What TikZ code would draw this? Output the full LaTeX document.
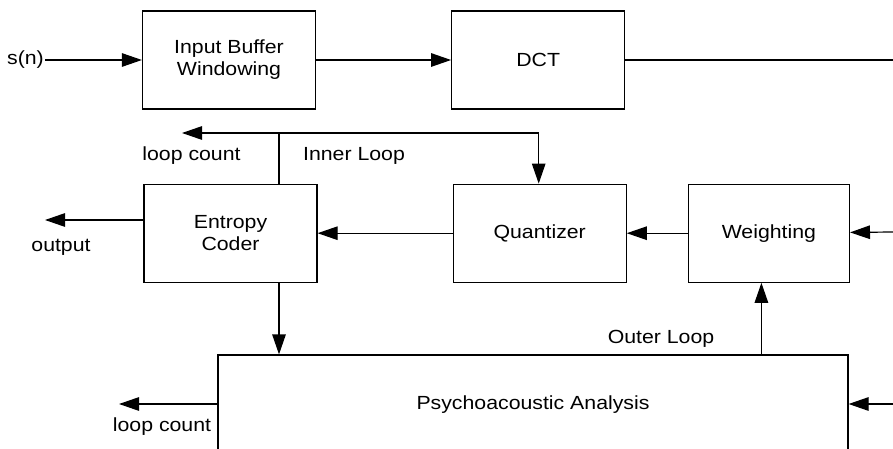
\documentclass[tikz,border=0pt]{standalone}
\usepackage{fontspec}
\setmainfont{Liberation Sans}[FakeStretch=1.12]
\usepackage{tikz}
\usetikzlibrary{arrows.meta, positioning, calc}
\tikzset{
  block/.style={rectangle, draw, line width=1.2pt, align=center, inner sep=0pt,
    minimum width=173pt, minimum height=98pt, font=\fontsize{19}{22}\selectfont},
  arrow/.style={-{Triangle[length=20pt, width=13.5pt]}, line width=1.2pt},
  line/.style={line width=1.2pt},
  lbl/.style={inner sep=1pt, font=\fontsize{19}{22}\selectfont}
}

\begin{document}
\begin{tikzpicture}[x=1pt, y=-1pt]
  \clip (0,0) rectangle (893,449);
  % Upper chain
  \node[block] (ib) at (229,60) {Input Buffer\\Windowing};
  \node[block, right=135pt of ib] (dct) {DCT};
  \node[lbl, anchor=east] (sn) at (45,60) {s(n)};
  \coordinate (dctout) at (893,60);
  % Inner loop blocks
  \node[block, below=74pt of ib, xshift=1.5pt] (ec) {Entropy\\Coder};
  \node[block, right=135pt of ec] (qz) {Quantizer};
  \node[block, minimum width=161pt, right=61pt of qz] (wt) {Weighting};
  % Analysis block (runs past the lower edge)
  \node[block, minimum width=630pt, minimum height=100pt] (psy) at (533,405) {Psychoacoustic Analysis};
  % Free ends
  \coordinate (jn) at (279,133);
  \coordinate (lc1) at (182,133);
  \coordinate (out) at (45,220);
  \coordinate (lc2) at (119,404);
  \coordinate (wtin) at (893,232);
  \coordinate (psyin) at (893,404);
  % Connectors
  \draw[arrow] (sn.east) -- (ib.west);
  \draw[arrow] (ib) -- (dct);
  \draw[line] (dct.east) -- (dctout);
  \draw[arrow] (ec.north -| jn) -- (jn) -- (lc1);
  \draw[arrow] (jn) -| ([xshift=-1pt]qz.north);
  \draw[arrow] (wtin) -- (wt);
  \draw[arrow] (wt) -- (qz);
  \draw[arrow] (qz) -- (ec);
  \draw[arrow] (ec.west |- out) -- (out);
  \draw[arrow] (ec.south -| jn) -- (psy.north -| jn);
  \draw[arrow] (psy.west |- lc2) -- (lc2);
  \draw[arrow] ([xshift=-7.5pt]wt.south |- psy.north) -- ([xshift=-7.5pt]wt.south);
  \draw[arrow] (psyin) -- (psy.east |- psyin);
  % Labels
  \node[lbl] (lcup) at (191.5,156) {loop count};
  \node[lbl] (inner) at (354,156) {Inner Loop};
  \node[lbl] (outlbl) at (61,247) {output};
  \node[lbl] (lcdn) at (162,427) {loop count};
  \node[lbl] (outer) at (661,338.5) {Outer Loop};
\end{tikzpicture}
\end{document}
